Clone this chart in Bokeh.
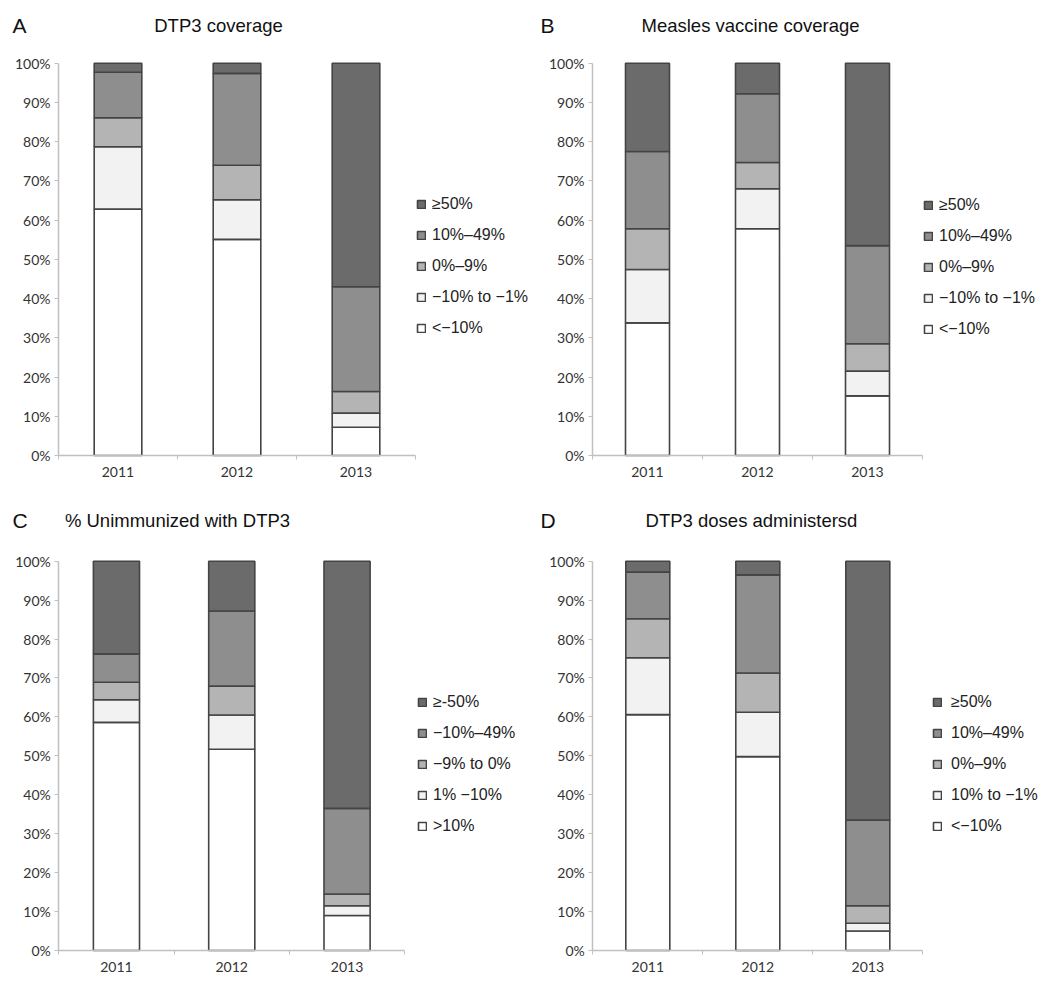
from bokeh.plotting import figure
from bokeh.models import (Range1d, FixedTicker, NumeralTickFormatter, Legend,
                          LegendItem, Label, ColumnDataSource)
from bokeh.layouts import column, row
from bokeh.embed import file_html
from bokeh.resources import INLINE

# ---------------- data ----------------
years = ["2011", "2012", "2013"]
stack_keys = ["s1", "s2", "s3", "s4", "s5"]  # bottom -> top

# A: DTP3 coverage (percent)
a_lt_m10 = [62.8, 55.1, 7.2]
a_m10_m1 = [15.9, 10.1, 3.6]
a_0_9 = [7.4, 8.8, 5.5]
a_10_49 = [11.6, 23.4, 26.7]
a_ge50 = [2.3, 2.6, 57.0]
a_labels = ["<\u221210%", "\u221210% to \u22121%", "0%\u20139%", "10%\u201349%", "\u226550%"]

# B: Measles vaccine coverage
b_lt_m10 = [33.8, 57.8, 15.2]
b_m10_m1 = [13.6, 10.2, 6.3]
b_0_9 = [10.4, 6.7, 7.0]
b_10_49 = [19.7, 17.5, 25.0]
b_ge50 = [22.5, 7.8, 46.5]
b_labels = ["<\u221210%", "\u221210% to \u22121%", "0%\u20139%", "10%\u201349%", "\u226550%"]

# C: % Unimmunized with DTP3
c_gt10 = [58.6, 51.7, 9.0]
c_1_10 = [5.8, 8.8, 2.5]
c_m9_0 = [4.5, 7.4, 3.0]
c_m10_m49 = [7.3, 19.3, 22.0]
c_ge_m50 = [23.8, 12.8, 63.5]
c_labels = [">10%", "1% \u221210%", "\u22129% to 0%", "\u221210%\u201349%", "\u2265-50%"]

# D: DTP3 doses administersd
d_lt_m10 = [60.6, 49.8, 5.0]
d_10_m1 = [14.6, 11.4, 2.0]
d_0_9 = [10.0, 10.1, 4.5]
d_10_49 = [12.0, 25.2, 22.0]
d_ge50 = [2.8, 3.5, 66.5]
d_labels = ["<\u221210%", "10% to \u22121%", "0%\u20139%", "10%\u201349%", "\u226550%"]

colors = ["#ffffff", "#f2f2f2", "#b4b4b4", "#8e8e8e", "#6b6b6b"]

FONT = "Liberation Sans"
TICKFONT = "Lato"


def make_panel(letter, title, series, labels, fig_x, fig_y, fig_w, fig_h,
               axis_px, unit_px, zero_py, unit_py,
               letter_px, title_cx, title_py, legend_px, legend_top_py,
               legend_standoff=6):
    n = len(years)
    x0 = (fig_x - axis_px) / unit_px
    x1 = (fig_x + fig_w - axis_px) / unit_px
    y0 = (zero_py - (fig_y + fig_h)) / unit_py
    y1 = (zero_py - fig_y) / unit_py

    p = figure(width=fig_w, height=fig_h, title=None, toolbar_location=None,
               output_backend="svg", x_range=Range1d(x0, x1),
               y_range=Range1d(y0, y1), min_border=0)
    p.outline_line_color = None
    p.xgrid.visible = False
    p.ygrid.visible = False
    p.background_fill_color = "white"
    p.border_fill_color = "white"

    data = {"x": [i + 0.5 for i in range(n)]}
    for k, s in zip(stack_keys, series):
        data[k] = [v / 100.0 for v in s]
    src = ColumnDataSource(data)
    rends = p.vbar_stack(stack_keys, x="x", width=0.4, source=src,
                         fill_color=colors, line_color="#444444",
                         line_width=1.6)

    # axes, drawn inside the frame at fixed locations
    xa = p.xaxis[0]
    xa.fixed_location = 0
    xa.ticker = FixedTicker(ticks=data["x"], minor_ticks=list(range(n + 1)))
    xa.major_label_overrides = {x: y for x, y in zip(data["x"], years)}
    xa.bounds = (0, n)
    xa.axis_line_color = "#c0c0c0"
    xa.axis_line_width = 1.5
    xa.major_tick_line_color = None
    xa.major_tick_out = 0
    xa.major_tick_in = 0
    xa.minor_tick_line_color = "#c0c0c0"
    xa.minor_tick_out = 4
    xa.minor_tick_in = 0
    xa.major_label_standoff = 7
    xa.major_label_text_font = TICKFONT
    xa.major_label_text_font_size = "14px"
    xa.major_label_text_color = "#333333"

    ya = p.yaxis[0]
    ya.fixed_location = 0
    ya.ticker = FixedTicker(ticks=[i / 10 for i in range(11)], minor_ticks=[])
    ya.formatter = NumeralTickFormatter(format="0%")
    ya.bounds = (0, 1)
    ya.axis_line_color = "#c0c0c0"
    ya.axis_line_width = 1.5
    ya.major_tick_line_color = "#c0c0c0"
    ya.major_tick_out = 4
    ya.major_tick_in = 0
    ya.minor_tick_line_color = None
    ya.major_label_standoff = 4
    ya.major_label_text_font = TICKFONT
    ya.major_label_text_font_size = "14px"
    ya.major_label_text_color = "#333333"

    # legend (top item = top of stack)
    items = [LegendItem(label=lab, renderers=[r])
             for lab, r in zip(labels, rends)][::-1]
    label_h = 21
    spacing = 10
    leg_h = 5 * label_h + 4 * spacing
    leg = Legend(items=items,
                 location=(legend_px - fig_x,
                           (fig_y + fig_h) - (legend_top_py + leg_h)),
                 orientation="vertical", glyph_width=10, glyph_height=10,
                 label_height=label_h, spacing=spacing, padding=0, margin=0,
                 label_standoff=legend_standoff, border_line_color=None,
                 background_fill_alpha=0, label_text_font=FONT,
                 label_text_font_size="16px", label_text_color="#222222")
    p.add_layout(leg)

    # panel letter and title
    ty = (zero_py - title_py) / unit_py
    p.add_layout(Label(x=(letter_px - axis_px) / unit_px, y=ty,
                       text=letter, text_font=FONT, text_font_size="21px",
                       text_color="#111111", text_align="left",
                       text_baseline="middle"))
    p.add_layout(Label(x=(title_cx - axis_px) / unit_px, y=ty,
                       text=title, text_font=FONT, text_font_size="18.5px",
                       text_color="#111111", text_align="center",
                       text_baseline="middle"))
    return p


TOP_H, BOT_H = 488, 494
LEFT_W, RIGHT_W = 530, 518

pA = make_panel("A", "DTP3 coverage",
                [a_lt_m10, a_m10_m1, a_0_9, a_10_49, a_ge50], a_labels,
                fig_x=0, fig_y=0, fig_w=LEFT_W, fig_h=TOP_H,
                axis_px=58, unit_px=119, zero_py=455, unit_py=392.3,
                letter_px=12, title_cx=218, title_py=25,
                legend_px=416, legend_top_py=193.5)
pB = make_panel("B", "Measles vaccine coverage",
                [b_lt_m10, b_m10_m1, b_0_9, b_10_49, b_ge50], b_labels,
                fig_x=LEFT_W, fig_y=0, fig_w=RIGHT_W, fig_h=TOP_H,
                axis_px=592, unit_px=110, zero_py=455, unit_py=392.3,
                letter_px=540, title_cx=750, title_py=25,
                legend_px=923, legend_top_py=194.5)
pC = make_panel("C", "% Unimmunized with DTP3",
                [c_gt10, c_1_10, c_m9_0, c_m10_m49, c_ge_m50], c_labels,
                fig_x=0, fig_y=TOP_H, fig_w=LEFT_W, fig_h=BOT_H,
                axis_px=58.3, unit_px=115.3, zero_py=950, unit_py=389.3,
                letter_px=12, title_cx=177, title_py=520,
                legend_px=417, legend_top_py=691.2)
pD = make_panel("D", "DTP3 doses administersd",
                [d_lt_m10, d_10_m1, d_0_9, d_10_49, d_ge50], d_labels,
                fig_x=LEFT_W, fig_y=TOP_H, fig_w=RIGHT_W, fig_h=BOT_H,
                axis_px=592.3, unit_px=110, zero_py=950, unit_py=389.3,
                letter_px=540, title_cx=751, title_py=520,
                legend_px=932, legend_top_py=691.2, legend_standoff=9)

layout = column(row(pA, pB, spacing=0), row(pC, pD, spacing=0), spacing=0)

with open("out.html", "w") as f:
    f.write(file_html(layout, INLINE))
